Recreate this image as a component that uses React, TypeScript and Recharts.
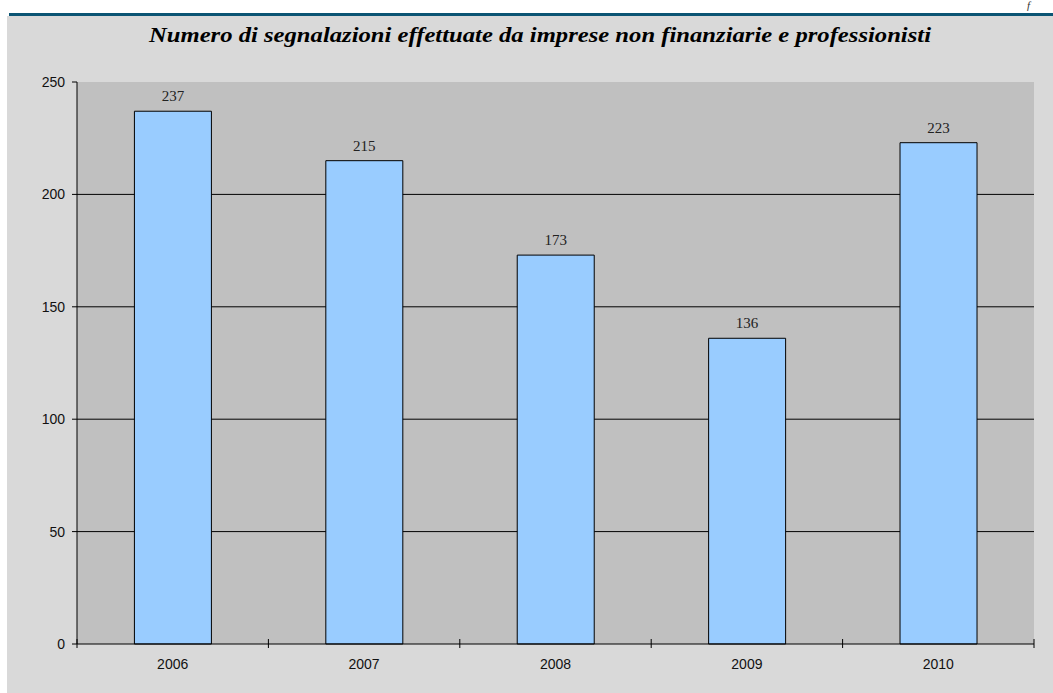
import React from 'react';
import { BarChart, Bar, XAxis, YAxis, CartesianGrid, LabelList } from 'recharts';

const years = ['2006', '2007', '2008', '2009', '2010'];
const counts = [237, 215, 173, 136, 223];
const yTicks = [0, 50, 100, 150, 200, 250];
const gridValues = [50, 100, 150, 200];
const title = 'Numero di segnalazioni effettuate da imprese non finanziarie e professionisti';

const data = years.map((y, i) => ({ year: y, value: counts[i] }));

const XTick = (props: any) => {
  const { x, y, payload, index, width, visibleTicksCount } = props;
  const half = payload && payload.offset ? payload.offset : width / (visibleTicksCount || 5) / 2;
  return (
    <g>
      {index === 0 && <line x1={x - half} x2={x - half} y1={y - 5} y2={y + 4} stroke="#000" />}
      <line x1={x + half} x2={x + half} y1={y - 5} y2={y + 4} stroke="#000" />
      <text x={x} y={y + 20} dy="0.355em" textAnchor="middle" fontFamily="Liberation Sans, Arial, sans-serif" fontSize={14} fill="#111">
        {payload.value}
      </text>
    </g>
  );
};

export default function App() {
  return (
    <div style={{ position: 'absolute', left: 0, top: 0, width: 1053, height: 693, background: '#fff', overflow: 'hidden' }}>
      <div style={{ position: 'absolute', left: 7, top: 16, width: 1046, height: 677, background: '#d9d9d9' }} />
      <div style={{ position: 'absolute', left: 9, top: 13, width: 1044, height: 3, background: '#0b5574' }} />
      <svg style={{ position: 'absolute', left: 0, top: 0 }} width={1053} height={693}>
        <text x={1027} y={9} fontFamily="Liberation Serif, serif" fontStyle="italic" fontSize={11} fill="#333">f</text>
        <text x={540} y={42} textAnchor="middle" fontFamily="Liberation Serif, serif" fontStyle="italic" fontWeight="bold" fontSize={21} fill="#000" textLength={782} lengthAdjust="spacingAndGlyphs">
          {title}
        </text>
      </svg>
      <div style={{ position: 'absolute', left: 0, top: 0 }}>
        <BarChart width={1053} height={693} data={data} margin={{ top: 82, right: 19, bottom: 19, left: 17 }} barCategoryGap="30%">
          <CartesianGrid vertical={false} horizontalValues={gridValues} stroke="#000" fill="#c0c0c0" fillOpacity={1} />
          <XAxis xAxisId="top" orientation="top" dataKey="year" height={0} tick={false} tickLine={false} axisLine={{ stroke: '#808080' }} />
          <YAxis yAxisId="right" orientation="right" width={0} domain={[0, 250]} ticks={yTicks} tick={false} tickLine={false} axisLine={{ stroke: '#808080' }} />
          <XAxis dataKey="year" height={30} tickLine={false} tickSize={0} tickMargin={0} axisLine={{ stroke: '#000' }} tick={<XTick />} interval={0} />
          <YAxis width={60} domain={[0, 250]} ticks={yTicks} tickSize={5} tickMargin={7} axisLine={{ stroke: '#000' }} tickLine={{ stroke: '#000' }} tick={{ fontFamily: 'Liberation Sans, Arial, sans-serif', fontSize: 14, fill: '#111' }} interval={0} />
          <Bar dataKey="value" fill="#99ccff" stroke="#000" strokeWidth={1} isAnimationActive={false}>
            <LabelList dataKey="value" position="top" offset={10} fill="#222" fontSize={15} fontFamily="Liberation Serif, serif" />
          </Bar>
        </BarChart>
      </div>
    </div>
  );
}
